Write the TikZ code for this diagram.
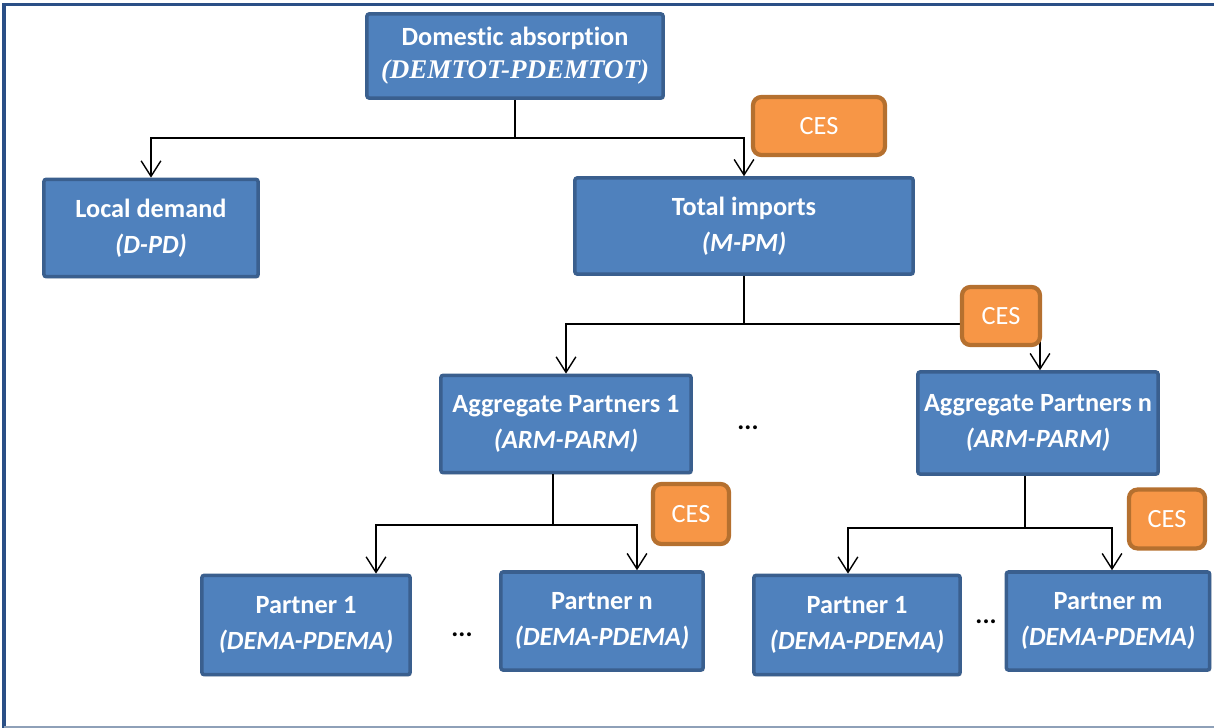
\documentclass[tikz,border=0pt]{standalone}
\usepackage{fontspec}
\setmainfont{Carlito}[Ligatures={NoCommon,NoDiscretionary}]
\newfontfamily\timesfont{Liberation Serif}
\usetikzlibrary{arrows.meta,calc,shadows}

\definecolor{boxblue}{HTML}{4F81BD}
\definecolor{boxedge}{HTML}{3A5F8E}
\definecolor{cesorange}{HTML}{F79646}
\definecolor{cesedge}{HTML}{B5702F}
\definecolor{frameblue}{HTML}{2A4F86}
\definecolor{framegray}{HTML}{8EA0B8}

\begin{document}
\begin{tikzpicture}[x=0.025cm,y=-0.025cm,
	blk/.style={draw=boxedge,fill=boxblue,line width=2.5pt,rounded corners=1.5pt,text=white,align=center,inner sep=0pt,
		font=\fontsize{18.7}{25.6}\selectfont\bfseries,drop shadow={shadow xshift=1.2pt,shadow yshift=-1.2pt,opacity=0.3}},
	ces/.style={draw=cesedge,fill=cesorange,line width=3pt,rounded corners=6pt,text=white,inner sep=0pt,
		font=\fontsize{18.7}{22}\selectfont},
	arr/.style={line width=1pt,-{Straight Barb[length=11pt,width=14pt]}},
	lnk/.style={line width=1pt}]
	\useasboundingbox (0,0) rectangle (1214,728);
	% frame
	\draw[frameblue,line width=2.2pt] (4,728) -- (4,4.5) -- (1214,4.5);
	\draw[framegray,line width=1.5pt] (4,727) -- (1214,727);
	% top level
	\node[blk,minimum width=7.4cm,minimum height=2.1cm] (dom) at (515,56) {\raisebox{-2pt}{Domestic absorption}\\{\timesfont\bfseries\itshape\fontsize{19.2}{25.6}\selectfont (DEMTOT-PDEMTOT)}};
	\node[blk,minimum width=5.35cm,minimum height=2.43cm] (loc) at (151,228) {Local demand\\\textit{(D-PD)}};
	\node[blk,minimum width=8.45cm,minimum height=2.4cm] (tot) at (744,226) {Total imports\\\textit{(M-PM)}};
	% aggregates
	\node[blk,minimum width=6.25cm,minimum height=2.43cm] (agg1) at (566,424) {Aggregate Partners 1\\\textit{(ARM-PARM)}};
	\node[blk,minimum width=6.0cm,minimum height=2.55cm] (aggn) at (1038,423) {Aggregate Partners n\\\textit{(ARM-PARM)}};
	\node[font=\fontsize{18.7}{22}\selectfont\bfseries] (dotsa) at (748,428) {...};
	% partners
	\node[blk,minimum width=5.2cm,minimum height=2.48cm] (p1l) at (306,625) {Partner 1\\\textit{(DEMA-PDEMA)}};
	\node[blk,minimum width=5.05cm,minimum height=2.45cm] (pnl) at (602,621) {Partner n\\\textit{(DEMA-PDEMA)}};
	\node[font=\fontsize{18.7}{22}\selectfont\bfseries] (dotsb) at (462,635) {...};
	\node[blk,minimum width=5.15cm,minimum height=2.48cm] (p1r) at (857,625) {Partner 1\\\textit{(DEMA-PDEMA)}};
	\node[blk,minimum width=5.08cm,minimum height=2.45cm] (pmr) at (1108,621) {Partner m\\\textit{(DEMA-PDEMA)}};
	\node[font=\fontsize{18.7}{22}\selectfont\bfseries] (dotsc) at (986,622) {...};
	% connectors
	\coordinate (ja) at (515,138);
	\draw[lnk] (dom.south) -- (ja);
	\draw[arr] (ja) -| (loc.north);
	\draw[arr] (ja) -| (tot.north);
	\coordinate (jb) at (744,324);
	\draw[lnk] (tot.south) -- (jb);
	\draw[arr] (jb) -| (agg1.north);
	\draw[arr] (jb) -| ($(aggn.north)+(2,0)$);
	\coordinate (jc) at (553,525);
	\draw[lnk] (jc |- agg1.south) -- (jc);
	\draw[arr] (jc) -| ($(p1l.north)+(70,0)$);
	\draw[arr] (jc) -| ($(pnl.north)+(35,0)$);
	\coordinate (jd) at (1025,528);
	\draw[lnk] (jd |- aggn.south) -- (jd);
	\draw[arr] (jd) -| ($(p1r.north)+(-9,0)$);
	\draw[arr] (jd) -| ($(pmr.north)+(4,0)$);
	% CES labels
	\node[ces,minimum width=3.3cm,minimum height=1.45cm] (cesa) at (819,126) {CES};
	\node[ces,minimum width=1.95cm,minimum height=1.45cm] (cesb) at (1001,316) {CES};
	\node[ces,minimum width=1.9cm,minimum height=1.5cm] (cesc) at (691,514) {CES};
	\node[ces,minimum width=1.9cm,minimum height=1.47cm] (cesd) at (1167,519) {CES};
\end{tikzpicture}
\end{document}
